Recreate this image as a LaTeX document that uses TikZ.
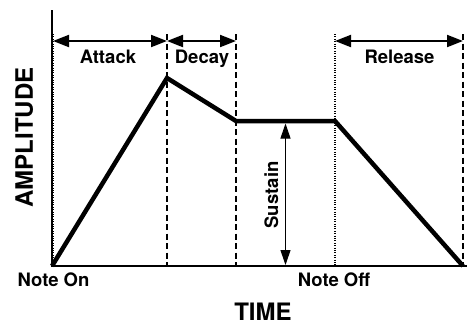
\documentclass[tikz,border=0pt]{standalone}
\usepackage{fontspec}
\setmainfont{TeX Gyre Heros}
\usetikzlibrary{arrows.meta}
\tikzset{
  lbl/.style={font=\bfseries\fontsize{18.5}{20}\selectfont, anchor=base, inner sep=0pt},
  big/.style={font=\bfseries\fontsize{24}{26}\selectfont, anchor=base, inner sep=0pt},
  axis/.style={line width=2pt},
  env/.style={line width=4.5pt, line join=miter, line cap=butt},
  span/.style={line width=2pt, {Triangle[length=16pt,width=12pt]}-{Triangle[length=16pt,width=12pt]}},
  sus/.style={line width=1pt, {Triangle[length=15pt,width=10pt]}-{Triangle[length=15pt,width=10pt]}},
  dashline/.style={line width=1.5pt, dash pattern=on 6pt off 3.5pt},
  dotline/.style={line width=1.2pt, dash pattern=on 1pt off 1.4pt},
}
\begin{document}
\begin{tikzpicture}[x=1pt,y=-1pt]
\useasboundingbox (0,0) rectangle (467,325);
% coordinates
\coordinate (top) at (52,10);
\coordinate (o) at (52,266);
\coordinate (xend) at (467,266);
\coordinate (e0) at (52,266);
\coordinate (e1) at (167,78);
\coordinate (e2) at (236,121);
\coordinate (e3) at (335,121);
\coordinate (e4) at (463,266);
\coordinate (a0) at (53,41);
\coordinate (a1) at (167,41);
\coordinate (a2) at (236,41);
\coordinate (r0) at (335,41);
\coordinate (r1) at (463,41);
\coordinate (d0t) at (53.5,34);
\coordinate (d0b) at (53.5,266);
\coordinate (d1t) at (167,34);
\coordinate (d1b) at (167,266);
\coordinate (d2t) at (236,34);
\coordinate (d2b) at (236,266);
\coordinate (d3t) at (335,34);
\coordinate (d3b) at (335,266);
\coordinate (d4t) at (463,34);
\coordinate (d4b) at (463,266);
\coordinate (s0) at (285.5,123.5);
\coordinate (s1) at (285.5,265);
% guide lines
\draw[dotline] (d0t) -- (d0b);
\draw[dashline] (d1t) -- (d1b);
\draw[dashline] (d2t) -- (d2b);
\draw[dotline] (d3t) -- (d3b);
\draw[dashline] (d4t) -- (d4b);
% axes
\draw[axis] (top) -- (o) -- (xend);
% envelope
\draw[env] (e0) -- (e1) -- (e2) -- (e3) -- (e4);
% spans
\draw[span] (a0) -- (a1);
\draw[span] (a1) -- (a2);
\draw[span] (r0) -- (r1);
\draw[sus] (s0) -- (s1);
% labels
\node[lbl] (attack) at (108,63.5) {Attack};
\node[lbl] (decay) at (202,63.5) {Decay};
\node[lbl] (release) at (399.5,63.5) {Release};
\node[lbl, rotate=90] (sustain) at (278,195) {Sustain};
\node[lbl] (noteon) at (53.5,286) {Note On};
\node[lbl] (noteoff) at (334,286) {Note Off};
\node[big] (time) at (263,320.5) {TIME};
\node[big, rotate=90] (amp) at (33,137.5) {AMPLITUDE};
\end{tikzpicture}
\end{document}
